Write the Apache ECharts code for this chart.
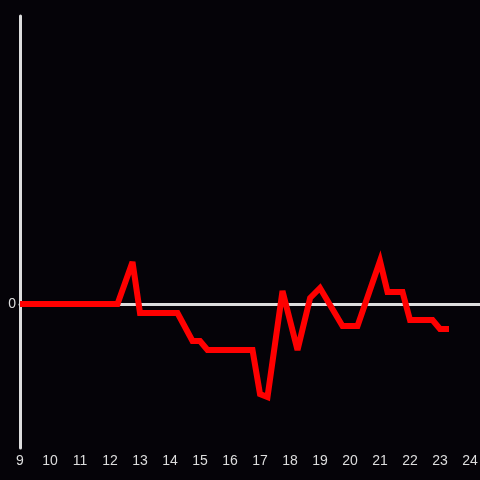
<!DOCTYPE html>
<html>
<head>
<meta charset="utf-8">
<script src="https://cdn.jsdelivr.net/npm/echarts@6/dist/echarts.min.js"></script>
<style>
  html, body { margin: 0; padding: 0; background: #050308; }
  #chart { width: 480px; height: 480px; }
</style>
</head>
<body>
<div id="chart"></div>
<script>
// hour of day for each reading
var hours = [9, 12.25, 12.75, 13, 14.25, 14.75, 15, 15.25, 16.75, 17, 17.25,
             17.75, 18.25, 18.67, 19, 19.75, 20.25, 21, 21.25, 21.75, 22, 22.75, 23, 23.3];
var values = [0, 0, 42, -9, -9, -37, -37, -46, -46, -90, -93,
              13, -46, 6, 16, -22, -22, 43, 12, 12, -16, -16, -25, -25];

var chart = echarts.init(document.getElementById('chart'));
var option = {
  backgroundColor: '#050308',
  animation: false,
  grid: { left: 20, right: 0, top: 16, bottom: 32, outerBoundsMode: 'none', containLabel: false },
  xAxis: {
    type: 'value',
    min: 9,
    max: 24.333,
    interval: 1,
    axisLine: { onZero: true, lineStyle: { color: '#dddddd', width: 3 } },
    axisTick: { show: false },
    splitLine: { show: false },
    axisLabel: {
      color: '#dddddd',
      fontSize: 14,
      margin: 6,
      formatter: function (v) { return v <= 24 ? String(v) : ''; }
    }
  },
  yAxis: {
    type: 'value',
    min: -144,
    max: 288,
    interval: 144,
    axisLine: { show: true, lineStyle: { color: '#dddddd', width: 3 } },
    axisTick: { show: false },
    splitLine: { show: false },
    axisLabel: {
      color: '#dddddd',
      fontSize: 14,
      margin: 4,
      formatter: function (v) { return v === 0 ? '0' : ''; }
    }
  },
  series: [{
    type: 'line',
    showSymbol: false,
    symbol: 'none',
    lineStyle: { color: '#ff0000', width: 6, join: 'miter', cap: 'butt', miterLimit: 4 },
    data: hours.map(function (h, i) { return [h, values[i]]; })
  }]
};
chart.setOption(option);
</script>
</body>
</html>
